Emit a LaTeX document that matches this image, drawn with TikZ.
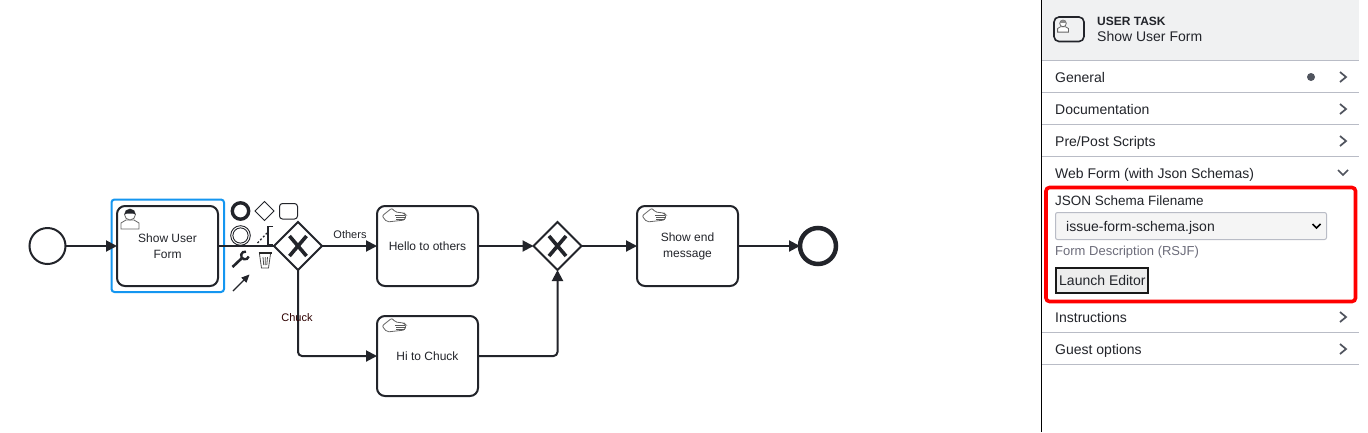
\documentclass[tikz,border=0pt]{standalone}
\usepackage{fontspec}
\setmainfont{Liberation Sans}
\usetikzlibrary{arrows.meta,shapes.geometric}
\definecolor{inkc}{HTML}{22242A}
\definecolor{rulec}{HTML}{B9BCC6}
\definecolor{panelc}{HTML}{F0F1F2}
\definecolor{panelt}{HTML}{22242A}
\definecolor{slatec}{HTML}{50545E}
\tikzset{
  task/.style={draw=inkc,line width=2pt,rounded corners=8pt,minimum width=101pt,minimum height=80pt,align=center,font=\fontsize{12}{15}\selectfont,text=inkc,inner sep=0pt,outer sep=0pt},
  gate/.style={draw=inkc,line width=2pt,diamond,minimum width=48pt,minimum height=48pt,inner sep=0pt,outer sep=0pt,fill=white},
  event/.style={draw=inkc,line width=2pt,circle,minimum size=36pt,inner sep=0pt,outer sep=0pt},
  flow/.style={draw=inkc,line width=2pt,-{Triangle[length=11pt,width=11pt]}},
  elbow/.style={flow,rounded corners=4pt},
  plainflow/.style={draw=inkc,line width=2pt},
  lab/.style={font=\fontsize{11}{13}\selectfont,inner sep=1pt,text=inkc},
  item/.style={anchor=base west,font=\fontsize{14}{16}\selectfont,inner sep=0pt,text=panelt},
  small/.style={anchor=base west,font=\fontsize{13}{15}\selectfont,inner sep=0pt,text=panelt},
  chev/.style={draw=slatec,line width=1.7pt}
}
% icons, all drawn round the point given
\newcommand{\chevright}[2]{\draw[chev] (#1-3,#2-5)--(#1+3,#2)--(#1-3,#2+5);}
\newcommand{\chevdown}[2]{\draw[chev] (#1-5,#2-3)--(#1,#2+2)--(#1+5,#2-3);}
\newcommand{\handicon}[2]{
  \draw[black!60,line width=.8pt,rounded corners=2pt] (#1-1,#2-2)--(#1-4,#2-6)--(#1-14,#2+2)--(#1-9,#2+8)--(#1+9,#2+6)--(#1+10,#2+1)--(#1+8,#2-1)--cycle;
  \draw[black!65,line width=.8pt] (#1-1,#2+1)--(#1+9,#2+1) (#1,#2+3)--(#1+9.5,#2+3) (#1,#2+5)--(#1+9,#2+5);
}
\newcommand{\usericon}[4][1]{
  \begin{scope}[shift={(#2,#3)},scale=#1]
  \draw[black!60,line width=.8pt,fill=white] (-9,9)--(-9,3)--(-4,0)--(4,0)--(9,3)--(9,9)--cycle;
  \draw[black!60,line width=.8pt,fill=white] (0,-5.5) circle (5.5pt);
  \fill[#4] (-5.5,-5.5) arc (180:0:5.5pt) -- (3,-6.5) -- (-3,-6.5) --cycle;
  \end{scope}
}
\begin{document}
\begin{tikzpicture}[x=1pt,y=-1pt]
\useasboundingbox[fill=white] (0,0) rectangle (1368,432);

% selection goes under the flows
\draw[draw={rgb,255:red,20;green,150;blue,240},line width=2pt,rounded corners=3pt] (111.5,199.5) rectangle (224,292);

% the process
\node[event] (start) at (47.5,246) {};
\node[task] (form) at (167.5,246) {Show User\\[1pt]Form};
\node[gate] (gwa) at (298,246) {};
\node[task] (hello) at (427.5,246) {Hello to others};
\node[task] (chuck) at (427.5,356) {Hi to Chuck};
\node[gate] (gwb) at (557.5,246) {};
\node[task] (showend) at (687.5,246) {Show end\\[1pt]message};
\node[event,line width=4.5pt,minimum size=36pt] (stop) at (818,246) {};
\draw[line width=3.6pt,inkc] (gwa) ++(-8.5,-10)--++(17,20) (gwa) ++(8.5,-10)--++(-17,20);
\draw[line width=3.6pt,inkc] (gwb) ++(-8.5,-10)--++(17,20) (gwb) ++(8.5,-10)--++(-17,20);

\draw[flow] (start)--(form);
\draw[plainflow] (form)--(gwa);
\draw[flow] (gwa)--(hello);
\draw[flow] (hello)--(gwb);
\draw[flow] (gwb)--(showend);
\draw[flow] (showend)--(stop);
\draw[elbow] (gwa.south) |- (chuck.west);
\draw[elbow] (chuck.east) -| (gwb.south);

\node[lab] (others) at (350,234.5) {Others};
\node[lab,text=black!70!red!60!black] (chucklab) at (297,317.5) {Chuck};

% task icons and the pad
\usericon{130}{220}{inkc}
\handicon{396}{214}
\handicon{396}{324}
\handicon{656}{214}
\draw[inkc,line width=3.4pt] (240.5,211) circle (8.2pt);
\draw[inkc,line width=1pt] (255,211)--(264.5,201.5)--(274,211)--(264.5,220.5)--cycle;
\draw[inkc,line width=1pt,rounded corners=3pt] (279.5,203.5) rectangle (297.5,219);
\draw[inkc,line width=.9pt] (240.5,235.5) circle (9.8pt) circle (7.6pt);
\draw[inkc,line width=1.3pt,dash pattern=on 2pt off 2pt] (257.5,243)--(267,233);
\draw[inkc,line width=1.2pt] (273,226.5)--(268,226.5)--(268,244.5)--(273,244.5);
\draw[inkc,line width=2.6pt] (232.5,267)--(241.5,258.5);
\draw[inkc,line width=2.4pt] (246,251.7) arc (75:345:3.9pt);
\draw[black!85,line width=1.6pt] (258.5,253)--(271.5,253);
\draw[black!70,line width=.8pt] (259.5,254)--(261.5,268)--(268.5,268)--(270.5,254);
\draw[black!70,line width=.8pt] (263,257)--(263.7,265) (265.2,257)--(265.2,265) (267.5,257)--(266.8,265);
\draw[inkc,line width=1.1pt,-{Triangle[length=8pt,width=7pt]}] (233,291)--(249.5,274.5);

% properties panel
\fill[panelc] (1042,0) rectangle (1359,60);
\draw[black,line width=1.2pt] (1041.5,0)--(1041.5,432);
\foreach \ypos in {60.5,92.5,124.5,156.5,332.5,364.5}
  \draw[rulec,line width=1pt] (1042,\ypos)--(1359,\ypos);
\draw[inkc,line width=1.6pt,rounded corners=5pt] (1054,17) rectangle (1084,41.5);
\usericon[.6]{1063}{26.7}{black!45}
\node[small,font=\fontsize{12}{14}\selectfont\bfseries] (kind) at (1097,25) {USER TASK};
\node[item] (name) at (1097,41) {Show User Form};
\node[item] (general) at (1055,82) {General};
\node[item] (docu) at (1055,114) {Documentation};
\node[item] (scripts) at (1055,146) {Pre/Post Scripts};
\node[item] (webform) at (1055,178) {Web Form (with Json Schemas)};
\node[item] (instr) at (1055,322) {Instructions};
\node[item] (guest) at (1055,354) {Guest options};
\fill[slatec] (1311,77) circle (4pt);
\foreach \ypos in {77,109,141,317,349} { \chevright{1343}{\ypos} }
\chevdown{1343}{173}

% the web form fields
\draw[red,line width=3.6pt,rounded corners=3.5pt] (1046,187.5) rectangle (1355.5,301.5);
\node[small,font=\fontsize{13.5}{15}\selectfont] (jsonlab) at (1055,205) {JSON Schema Filename};
\draw[rulec,fill=black!4,line width=1pt,rounded corners=2pt] (1055.5,212.5) rectangle (1326.5,239.5);
\node[item] (jsonfile) at (1066,231) {issue-form-schema.json};
\draw[black,line width=1.7pt] (1312.5,224)--(1316.5,228)--(1320.5,224);
\node[small,text=black!65!blue!15!gray,font=\fontsize{13}{15}\selectfont] (formdesc) at (1055,255) {Form Description (RSJF)};
\draw[black!90,fill=black!7,line width=2pt] (1056,268) rectangle (1148,292.5);
\node[item] (launch) at (1059,285) {Launch Editor};
\end{tikzpicture}
\end{document}
